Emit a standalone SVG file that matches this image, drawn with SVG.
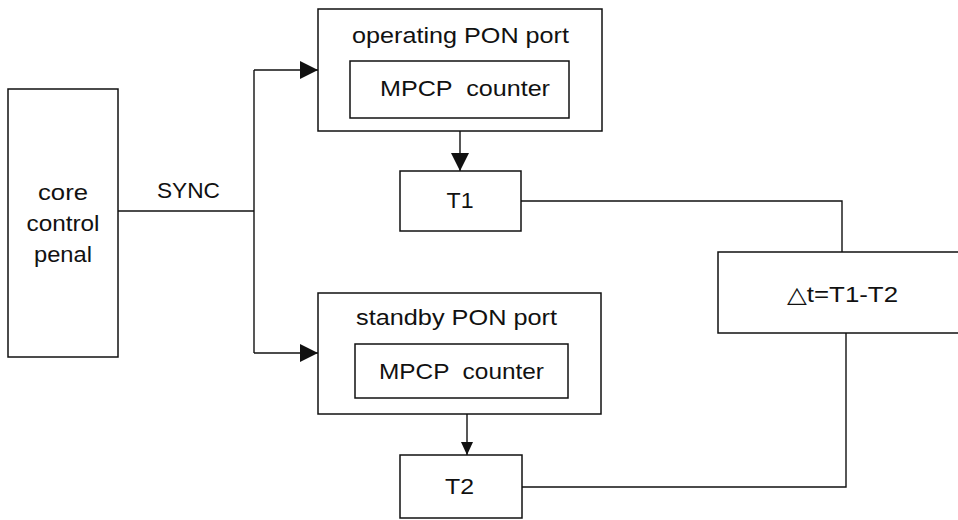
<svg xmlns="http://www.w3.org/2000/svg" width="958" height="520" viewBox="0 0 958 520">
<style>
.box{fill:#fff;stroke:#111;stroke-width:1.5}
.ln{fill:none;stroke:#111;stroke-width:1.4}
text{font-family:"Liberation Sans","DejaVu Sans",Arial,sans-serif;font-size:22.5px;fill:#111;text-anchor:middle}
</style>
<defs>
<marker id="big" markerUnits="userSpaceOnUse" markerWidth="18" markerHeight="18" refX="18" refY="9" orient="auto" viewBox="0 0 18 18">
<path d="M0,0 L18,9 L0,18 z" fill="#111"/>
</marker>
<marker id="small" markerUnits="userSpaceOnUse" markerWidth="13" markerHeight="12" refX="13" refY="6" orient="auto" viewBox="0 0 13 12">
<path d="M0,0 L13,6 L0,12 z" fill="#111"/>
</marker>
</defs>
<rect width="958" height="520" fill="#fff"/>
<g id="connectors">
<path class="ln" d="M118,211 H254"/>
<path class="ln" d="M254,70 V353"/>
<path class="ln" d="M254,70 H318" marker-end="url(#big)"/>
<path class="ln" d="M254,353 H318" marker-end="url(#big)"/>
<path class="ln" d="M460,118 V171" marker-end="url(#big)"/>
<path class="ln" d="M467,414 V455" marker-end="url(#small)"/>
<path class="ln" d="M521,201 H842 V252"/>
<path class="ln" d="M846,333 V487 H522"/>
</g>
<g id="core">
<rect class="box" x="8" y="89" width="110" height="268"/>
<text x="63" y="200" textLength="50" lengthAdjust="spacingAndGlyphs">core</text>
<text x="63" y="231" textLength="73" lengthAdjust="spacingAndGlyphs">control</text>
<text x="63" y="262" textLength="58" lengthAdjust="spacingAndGlyphs">penal</text>
</g>
<g id="sync-label">
<text x="188.5" y="198" textLength="63" lengthAdjust="spacingAndGlyphs">SYNC</text>
</g>
<g id="operating">
<rect class="box" x="318" y="9" width="284" height="122"/>
<text x="460.5" y="43" textLength="217" lengthAdjust="spacingAndGlyphs">operating PON port</text>
</g>
<g id="mpcp1">
<rect class="box" x="350" y="61" width="219" height="57"/>
<text x="465" y="96" textLength="170" lengthAdjust="spacingAndGlyphs" xml:space="preserve">MPCP  counter</text>
</g>
<g id="t1">
<rect class="box" x="400" y="171" width="121" height="60"/>
<text x="460" y="208" textLength="27" lengthAdjust="spacingAndGlyphs">T1</text>
</g>
<g id="delta">
<rect class="box" x="718" y="252" width="250" height="81"/>
<text x="842.5" y="302" textLength="111" lengthAdjust="spacingAndGlyphs">△t=T1-T2</text>
</g>
<g id="standby">
<rect class="box" x="318" y="293" width="283" height="121"/>
<text x="456.5" y="325" textLength="201" lengthAdjust="spacingAndGlyphs">standby PON port</text>
</g>
<g id="mpcp2">
<rect class="box" x="355" y="344" width="213" height="54"/>
<text x="461.5" y="379" textLength="165" lengthAdjust="spacingAndGlyphs" xml:space="preserve">MPCP  counter</text>
</g>
<g id="t2">
<rect class="box" x="400" y="455" width="122" height="63"/>
<text x="459.5" y="494" textLength="29" lengthAdjust="spacingAndGlyphs">T2</text>
</g>
</svg>
